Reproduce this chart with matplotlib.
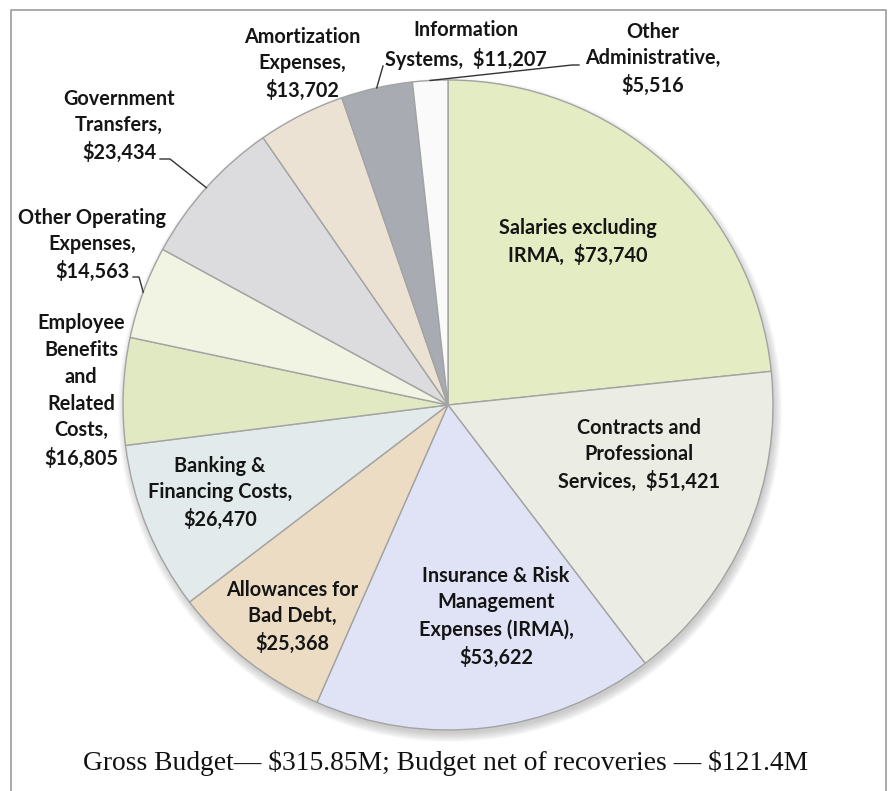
import matplotlib
matplotlib.use("Agg")
import matplotlib.pyplot as plt
from matplotlib.patches import Circle
import numpy as np

# Budget by expense category ($ thousands), clockwise from 12 o'clock
categories = [
    "Salaries excluding\nIRMA,  ",
    "Contracts and\nProfessional\nServices,  ",
    "Insurance & Risk\nManagement\nExpenses (IRMA),\n",
    "Allowances for\nBad Debt,\n",
    "Banking &\nFinancing Costs,\n",
    "Employee\nBenefits\nand\nRelated\nCosts,\n",
    "Other Operating\nExpenses,\n",
    "Government\nTransfers,\n",
    "Amortization\nExpenses,\n",
    "Information\nSystems,  ",
    "Other\nAdministrative,\n",
]
values = [73740, 51421, 53622, 25368, 26470, 16805, 14563, 23434, 13702, 11207, 5516]
colors = ["#e4ecc3", "#ebece4", "#e0e3f6", "#ecdcc3", "#e2eaec", "#e1e9c3",
          "#f1f3e3", "#dcdcdf", "#ebe2d4", "#a8acb2", "#fafafa"]
explode = [0.015, 0, 0, 0, 0, 0, 0, 0, 0, 0, 0]

caption = "Gross Budget\u2014 $315.85M; Budget net of recoveries \u2014 $121.4M"

W, H = 888, 791
CX, CY, R = 448, 405, 325

# label centres in image pixels (x, y from top)
label_pos = [(578, 242), (639, 455), (496, 617), (292, 617), (220, 493),
             (81, 391), (92, 245), (119, 126), (302, 64), (466, 45), (653, 59)]
# leader line elbows for the labels sitting outside the pie (y from top)
leaders = {
    6: [(139, 277), (133, 277)],
    7: [(170, 159), (160, 159)],
    9: [(383, 66)],
    10: [(572, 65), (579, 65)],
}


def run():
    fig = plt.figure(figsize=(W / 100, H / 100), dpi=100)
    ax = fig.add_axes([0, 0, 1, 1])

    def py(y):
        return H - y

    # soft drop shadow under the pie
    for k in range(12):
        ax.add_patch(Circle((CX + 2, py(CY) - 5), R + 7 - k * 0.8,
                            color="#707070", alpha=0.03, lw=0, zorder=0))

    wedges, _ = ax.pie(values, colors=colors, explode=explode, startangle=90,
                       counterclock=False, radius=R, center=(CX, py(CY)),
                       frame=True,
                       wedgeprops=dict(edgecolor="#a3a3a3", linewidth=1.0))
    ax.set_xlim(0, W)
    ax.set_ylim(0, H)
    ax.set_aspect("equal")
    ax.axis("off")

    font = dict(family=["Lato", "DejaVu Sans"], fontweight="bold",
                fontsize=14.3, color="#151515")
    for i, (name, v) in enumerate(zip(categories, values)):
        x, y = label_pos[i]
        ax.text(x, py(y), f"{name}${v:,}", ha="center", va="center",
                multialignment="center", linespacing=1.42, zorder=5,
                parse_math=False, **font)

    # leader lines from the arc midpoint of the small outer slices
    for i, pts in leaders.items():
        w = wedges[i]
        mid = np.deg2rad((w.theta1 + w.theta2) / 2)
        x0 = CX + R * np.cos(mid)
        y0 = py(CY) + R * np.sin(mid)
        xs = [x0] + [p[0] for p in pts]
        ys = [y0] + [py(p[1]) for p in pts]
        ax.plot(xs, ys, color="#333333", lw=1.0, zorder=4)

    ax.text(W / 2 + 2, py(763), caption, ha="center", va="center",
            family=["Liberation Serif", "DejaVu Serif"], fontsize=19.8,
            color="#111111", parse_math=False)

    # outer frame (open at the bottom)
    ax.plot([11, 11, 886, 886], [0, py(10), py(10), 0], color="#9c9c9c",
            lw=1.2, zorder=6, clip_on=False)

    fig.savefig("out.png", dpi=100, facecolor="white")
    plt.close(fig)


if __name__ == "__main__":
    run()
